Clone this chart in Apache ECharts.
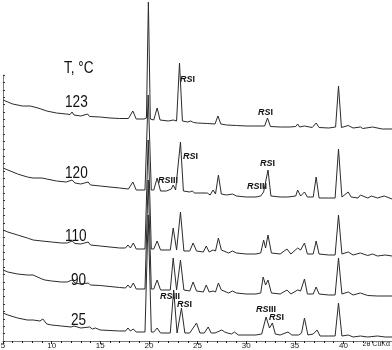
<!DOCTYPE html>
<html><head><meta charset="utf-8">
<script src="https://cdn.jsdelivr.net/npm/echarts@6/dist/echarts.min.js"></script>
<style>html,body{margin:0;padding:0;background:#fff}#c{width:392px;height:350px}</style>
</head><body><div id="c"></div>
<script>
// 2θ (deg) vs. stacked intensity (arbitrary units, offset per trace)
const t123 = [[5.0,241],[5.5,239],[6.0,237],[7.0,235],[7.8,235],[8.6,233],[9.5,230],[10.5,228],[11.5,227],[11.9,226.5],[12.1,229],[12.3,226],[13.0,225],[13.7,227],[13.9,224.5],[15,224],[16,223],[17,222.5],[17.9,222.5],[18.35,230],[18.7,222],[19.5,222],[19.75,223],[19.95,339],[20.15,222],[20.5,221],[20.85,233],[21.15,221],[22.0,220],[22.5,221],[22.85,220],[23.15,278],[23.45,220],[24.0,219],[24.3,220],[24.6,218.5],[25,218],[26,217.5],[26.8,217],[27.1,225],[27.4,217],[28,216],[29,215.5],[30,215],[31,215],[31.9,215],[32.2,223],[32.5,214.5],[33.5,214],[34.5,214],[35.1,214.5],[35.3,217],[35.5,214],[36.0,215],[36.8,213.5],[37.2,218],[37.5,213.5],[38.5,213],[39.2,214],[39.5,255],[39.8,213.5],[40.5,215.5],[41,213],[41.75,214],[42,212.5],[43,214],[44,212],[45,212]];
const t120 = [[5.0,173],[5.5,171],[6.5,167],[7.5,164],[8.1,163],[9.0,163],[9.5,162],[10.5,160],[11.5,159],[12.1,161],[12.4,158],[13.0,157],[13.75,159],[14.0,156],[15,155],[16,154],[17,153],[17.9,152],[18.35,159],[18.7,151],[19.6,151],[19.93,246],[20.25,151],[20.5,151],[20.85,163],[21.2,150],[21.8,150],[22.3,152],[22.5,156],[22.75,151],[23.25,199],[23.55,150],[24.2,149],[24.45,150],[24.7,148],[25,148],[26.0,148],[26.3,146],[26.6,151],[26.85,147],[27.15,166],[27.45,147],[28,146],[28.6,147],[29,145],[30,144],[31,144],[31.5,145],[31.8,149],[32.0,147],[32.25,171],[32.55,145],[33.5,144],[34.3,144],[35.1,145],[35.3,151],[35.6,145],[36.0,149],[36.3,144],[36.9,144],[37.2,164],[37.5,143],[38.5,143],[39.15,143],[39.5,192],[39.85,144],[40.5,149],[40.8,144],[41.5,143],[41.75,146],[42.5,143],[42.9,145],[43.5,143],[44.2,145],[45,142]];
const t110 = [[5.0,111],[5.5,109],[6.5,106],[7.5,103],[8.1,101],[9.0,100],[10,99],[11,98],[11.6,98],[12.1,100],[12.4,97.5],[13.0,97],[13.75,99],[14,96],[15,95],[16,94],[17,93],[17.6,93],[17.85,96],[18.1,93],[18.4,98],[18.7,92],[19.6,92],[19.93,201],[20.25,92],[20.5,92],[20.85,100],[21.2,91],[22.2,91],[22.5,113],[22.85,91],[23.25,129],[23.6,90],[24.2,90],[24.55,98],[24.9,90],[25.6,89],[25.9,95],[26.2,89],[26.6,91],[26.85,90],[27.15,103],[27.45,91],[27.65,92],[28.2,88],[28.6,90],[29,88],[30,87],[31,87],[31.5,88],[31.8,101],[32.0,93],[32.25,106],[32.6,88],[33.5,87],[34.2,92],[34.6,87],[35.3,93],[35.6,91],[36.0,98],[36.3,87],[36.9,87],[37.2,100],[37.5,87],[38.5,86],[39.15,86],[39.5,126],[39.85,87],[40.5,89],[41,86],[41.75,88],[42.5,85.5],[43,87],[43.5,85],[44.3,86],[45,85]];
const t90 = [[5.0,71],[5.5,69],[6.5,67],[7.5,66],[8.1,66],[9.0,62],[9.3,61],[10,60],[11,59],[11.6,59],[12.1,61],[12.4,58],[13,57],[13.75,58],[14,56],[15,55.5],[16,54.5],[17,53.5],[17.6,53],[17.85,56],[18.1,53],[18.4,58],[18.7,52],[19.6,52],[19.93,161],[20.25,52],[20.5,52],[20.85,61],[21.2,51],[22.2,51],[22.5,83],[22.85,51],[23.25,81],[23.6,51],[24.2,50],[24.55,59],[24.9,50],[25.6,49],[25.9,56],[26.2,49],[26.6,50],[26.85,49],[27.15,58],[27.45,51],[27.65,52],[28.2,48],[28.6,50],[29,48],[30,47],[31,47],[31.5,48],[31.75,64],[32.0,56],[32.25,61],[32.6,48],[33.5,47],[34.2,51],[34.6,47],[35.3,51],[35.6,50],[36.0,62],[36.3,47],[36.9,47],[37.2,54],[37.5,47],[38.5,46],[39.15,46],[39.5,83],[39.85,47],[40.5,49],[41,46],[41.75,48],[42.5,45.5],[43.5,45],[45,45]];
const t25 = [[5.0,28],[5.5,26],[6.5,23],[7.5,21],[8.1,21],[8.8,20],[9.1,22],[9.5,17],[10,16],[11,15],[12,14],[12.3,15],[13,13],[13.9,14],[14.2,12],[14.5,13],[15,11],[16,10.5],[17,10],[17.6,10],[17.85,13],[18.1,10],[18.4,12],[18.7,9],[19.6,9],[19.93,126],[20.25,9],[20.5,9],[20.85,13],[21.2,8],[22.2,8],[22.55,51],[22.9,8],[23.35,33],[23.7,8],[24.2,8],[24.9,18],[25.25,8],[25.7,8],[26.1,14],[26.4,8],[26.8,8],[27.5,11],[27.8,9],[28.1,8],[28.5,7],[28.8,9],[29.2,6],[30,6],[31,6],[31.6,7],[32.05,24],[32.4,13],[32.7,18],[33.0,7],[33.5,6],[34.3,9],[34.7,6],[35.4,6],[35.7,8],[36.0,23],[36.35,6],[36.9,7],[37.3,11],[37.6,5],[38.5,5],[39.15,5],[39.5,38],[39.85,5],[40.5,6],[41,4],[41.75,5],[42.5,4],[43.5,5],[44.3,4],[45,4]];
const tickLabels = ['5','10','15','20','25','30','35','40'];
const axisTitle = '2θ CuKα';
const tempTitle = 'T, °C';
const temps = ['123','120','110','90','25'];

const chart = echarts.init(document.getElementById('c'), null, {renderer:'canvas'});
const lineColor = '#2b2b2b';
const mk = (name, d) => ({name, type:'line', data:d, xAxisIndex:0, yAxisIndex:0, symbol:'none', silent:true,
  lineStyle:{color:lineColor, width:1}, animation:false});
const rsRich = {b:{fontStyle:'italic',fontWeight:'bold',fontSize:9,fontFamily:'Liberation Sans',fill:'#111'},
                n:{fontWeight:'bold',fontSize:9,fontFamily:'Liberation Sans',fill:'#111'}};
function rs(x, y, roman){
  return {type:'text', left:x, top:y, silent:true, style:{text:'{b|RS}{n|'+roman+'}', rich:rsRich}};
}
function tl(x, y, s){
  return {type:'text', x:x, y:y, scaleX:0.85, silent:true, style:{text:s, fontSize:16, fontFamily:'Liberation Sans', fill:'#111'}};
}
chart.setOption({
  animation:false,
  backgroundColor:'#fff',
  grid:[{left:3,right:0,top:0,bottom:9,containLabel:false,outerBoundsMode:'none'},
        {left:3,right:0,top:75,bottom:9,containLabel:false,outerBoundsMode:'none'}],
  xAxis:[{type:'value',min:5,max:45,interval:5,gridIndex:0,
          axisLine:{lineStyle:{color:'#777',width:1}},
          axisTick:{show:true,length:3,lineStyle:{color:'#222'}},
          minorTick:{show:true,splitNumber:5,length:2,lineStyle:{color:'#222'}},
          splitLine:{show:false},
          axisLabel:{fontSize:8,margin:1,color:'#222',fontFamily:'Liberation Sans',
                     formatter:(v)=>{const s=String(v);return tickLabels.indexOf(s)>=0?s:'';}}},
         {type:'value',gridIndex:1,show:false,min:0,max:1}],
  yAxis:[{type:'value',min:0,max:341,gridIndex:0,show:false},
         {type:'value',min:0,max:36,interval:1,gridIndex:1,
          axisLine:{show:true,lineStyle:{color:'#777',width:1}},
          axisTick:{show:true,inside:true,length:2,lineStyle:{color:'#333'}},
          axisLabel:{show:false},splitLine:{show:false}}],
  series:[mk(temps[0],t123),mk(temps[1],t120),mk(temps[2],t110),mk(temps[3],t90),mk(temps[4],t25)],
  graphic:[
    {type:'text', right:2, top:341, silent:true, style:{text:axisTitle, fontSize:7, fontFamily:'Liberation Sans', fill:'#222'}},
    tl(64,61,tempTitle),
    tl(65,95,temps[0]), tl(65,166,temps[1]), tl(65,229,temps[2]), tl(71,273,temps[3]), tl(71,313,temps[4]),
    rs(180,75,'I'), rs(258,108,'I'),
    rs(183,152,'I'), rs(158,176,'III'), rs(260,159,'I'), rs(247,182,'III'),
    rs(160,292,'III'), rs(177,300,'I'), rs(256,305,'III'), rs(269,313,'I')
  ]
});
</script></body></html>
